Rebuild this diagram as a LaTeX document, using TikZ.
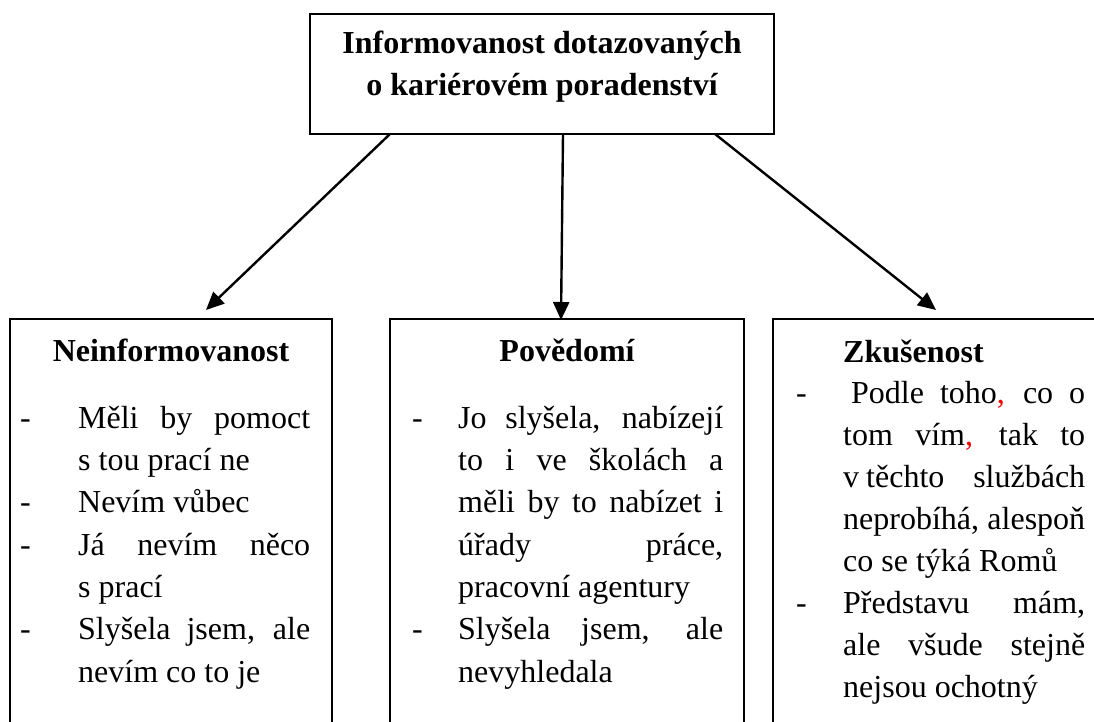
\documentclass[tikz,border=0pt]{standalone}
\usepackage{fontspec}
\setmainfont{Liberation Serif}
\usetikzlibrary{arrows.meta}
\newcommand{\dsh}[1]{\makebox[#1][l]{-}}
\newcommand{\jl}[2]{\makebox[#1][s]{#2}}
\begin{document}
\begin{tikzpicture}[x=1pt,y=-1pt,
  box/.style={draw=black,line width=1.6pt,inner sep=0pt,outer sep=0pt,anchor=north west},
  conn/.style={line width=2.4pt,-{Triangle[length=18pt,width=16pt]}},
  body/.style={font=\fontsize{32}{42.3}\selectfont,inner sep=0pt,anchor=base west,align=left},
  head/.style={font=\fontsize{32}{36}\selectfont\bfseries,inner sep=0pt,anchor=base}]
\useasboundingbox (0,0) rectangle (1094,722);
\clip (0,0) rectangle (1094,722);
% top box
\node[box,line width=1.8pt,minimum width=464pt,minimum height=120pt] (top) at (310,14) {};
\node[font=\fontsize{32}{42}\selectfont\bfseries,align=center,anchor=base,inner sep=0pt] (title) at (542,96)
  {Informovanost dotazovaných\\o kariérovém poradenství};
% lower boxes
\node[box,minimum width=322pt,minimum height=460pt] (b1) at (10,319) {};
\node[box,minimum width=354pt,minimum height=460pt] (b2) at (390,319) {};
\node[box,minimum width=350pt,minimum height=460pt] (b3) at (773,319) {};
% headings
\node[head] (h1) at (171,361) {Neinformovanost};
\node[head] (h2) at (567,361) {Povědomí};
\node[head,anchor=base west] (h3) at (843,362) {Zkušenost};
% body texts (base anchor = baseline of last line)
\node[body] (t1) at (20,682) {%
\dsh{58pt}\jl{232pt}{Měli by pomoct}\\
\hspace*{58pt}s tou prací ne\\
\dsh{58pt}Nevím vůbec\\
\dsh{58pt}\jl{232pt}{Já nevím něco}\\
\hspace*{58pt}s prací\\
\dsh{58pt}\jl{232pt}{Slyšela jsem, ale}\\
\hspace*{58pt}nevím co to je};
\node[body] (t2) at (412,682) {%
\dsh{46pt}\jl{265pt}{Jo slyšela, nabízejí}\\
\hspace*{46pt}\jl{265pt}{to i ve školách a}\\
\hspace*{46pt}\jl{265pt}{měli by to nabízet i}\\
\hspace*{46pt}\jl{265pt}{úřady práce,}\\
\hspace*{46pt}pracovní agentury\\
\dsh{46pt}\jl{265pt}{Slyšela jsem, ale}\\
\hspace*{46pt}nevyhledala};
\node[body,font=\fontsize{32}{42}\selectfont] (t3) at (796,697) {%
\dsh{47pt}\jl{242pt}{\hspace*{8pt}Podle toho\textcolor{red}{,} co o}\\
\hspace*{47pt}\jl{242pt}{tom vím\textcolor{red}{,} tak to}\\
\hspace*{47pt}\jl{242pt}{v\hspace*{7pt}těchto službách}\\
\hspace*{47pt}\jl{242pt}{neprobíhá, alespoň}\\
\hspace*{47pt}co se týká Romů\\
\dsh{47pt}\jl{242pt}{Představu mám,}\\
\hspace*{47pt}\jl{242pt}{ale všude stejně}\\
\hspace*{47pt}nejsou ochotný};
% connectors
\coordinate (s1) at (390,134);
\coordinate (s2) at (563,134);
\coordinate (s3) at (715,134);
\coordinate (e1) at (206,310);
\coordinate (e2) at (561,320);
\coordinate (e3) at (936,310);
\draw[conn] (s1) -- (e1);
\draw[conn] (s2) -- (e2);
\draw[conn] (s3) -- (e3);
\end{tikzpicture}
\end{document}
